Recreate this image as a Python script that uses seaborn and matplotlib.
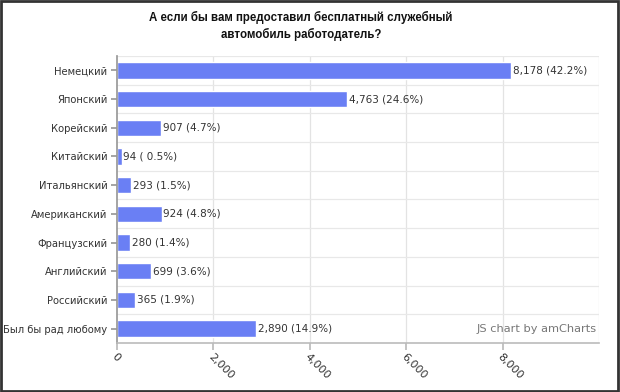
import matplotlib
matplotlib.use("Agg")
import matplotlib.pyplot as plt
import seaborn as sns
import pandas as pd
from matplotlib.patches import Rectangle
from matplotlib.ticker import FuncFormatter

categories = ["Немецкий", "Японский", "Корейский", "Китайский", "Итальянский",
              "Американский", "Французский", "Английский", "Российский", "Был бы рад любому"]
values = [8178, 4763, 907, 94, 293, 924, 280, 699, 365, 2890]
percents = ["42.2", "24.6", "4.7", " 0.5", "1.5", "4.8", "1.4", "3.6", "1.9", "14.9"]
x_ticks = [0, 2000, 4000, 6000, 8000]

df = pd.DataFrame({"cat": categories, "val": values})

sns.set_theme(style="white")
plt.rcParams["font.family"] = ["DejaVu Sans"]

fig = plt.figure(figsize=(6.2, 3.92), dpi=100)
ax = fig.add_axes([117/620, 1-343/392, (599-117)/620, (343-56)/392])

sns.barplot(data=df, x="val", y="cat", orient="h", color="#6a7ff4",
            saturation=1, width=0.57, ax=ax, order=categories)

ax.set_xlim(0, 10000)
ax.set_ylim(len(categories)-0.5, -0.5)
ax.set_xlabel("")
ax.set_ylabel("")

# gridlines
for x in [2000, 4000, 6000, 8000, 10000]:
    ax.axvline(x, color="#e3e3e3", lw=0.9, zorder=0)
for i in range(len(categories)):
    ax.axhline(i - 0.5, color="#e8e8e8", lw=0.9, zorder=0)

for s in ["top", "right"]:
    ax.spines[s].set_visible(False)
ax.spines["left"].set_color("#999999")
ax.spines["bottom"].set_color("#bbbbbb")
ax.spines["bottom"].set_linewidth(1.2)

ax.set_xticks(x_ticks)
ax.xaxis.set_major_formatter(FuncFormatter(lambda v, p: f"{int(v):,}"))
ax.tick_params(axis="x", length=5, color="#bbbbbb", labelsize=8, labelcolor="#333333", pad=1, bottom=True)
ax.tick_params(axis="y", length=4, color="#999999", labelsize=7.2, labelcolor="#333333", pad=3, left=True)
for lbl in ax.get_xticklabels():
    lbl.set_rotation(-45)
    lbl.set_ha("left")
    lbl.set_va("top")
    lbl.set_rotation_mode("anchor")

for i, (v, p) in enumerate(zip(values, percents)):
    ax.text(v + 40, i, f"{v:,} ({p}%)", va="center", ha="left", fontsize=7.5, color="#333333")

ax.text(0.995, 0.03, "JS chart by amCharts", transform=ax.transAxes, ha="right",
        va="bottom", fontsize=8.2, color="#777777")

fig.text(301/620, 1 - 26/392, "А если бы вам предоставил бесплатный служебный\nавтомобиль работодатель?",
         ha="center", va="center", fontsize=8.3, fontweight="bold", color="#111111",
         linespacing=1.3, family=["Liberation Sans", "DejaVu Sans"])

fig.patches.append(Rectangle((0.002, 0.003), 0.995, 0.994, transform=fig.transFigure,
                             fill=False, edgecolor="#333333", lw=2))

fig.savefig("out.png", dpi=100)
